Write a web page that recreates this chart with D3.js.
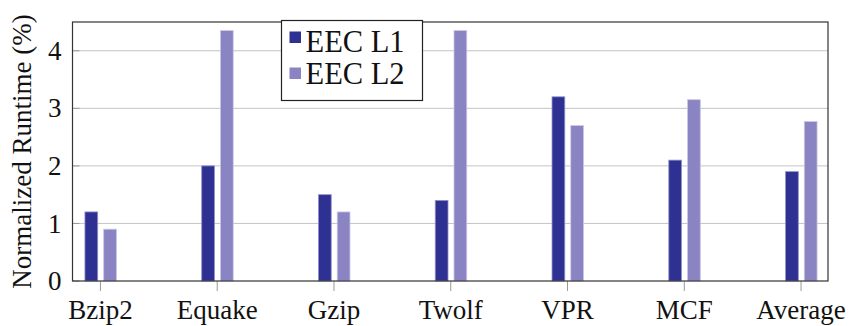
<!DOCTYPE html>
<html>
<head>
<meta charset="utf-8">
<script src="https://cdn.jsdelivr.net/npm/d3@7"></script>
<style>
  body { margin: 0; background: #fff; }
</style>
</head>
<body>
<div id="chart"></div>
<script>
const categories = ["Bzip2", "Equake", "Gzip", "Twolf", "VPR", "MCF", "Average"];
const eecL1 = [1.2, 2.0, 1.5, 1.4, 3.2, 2.1, 1.9];
const eecL2 = [0.9, 4.35, 1.2, 4.35, 2.7, 3.15, 2.77];
const seriesNames = ["EEC L1", "EEC L2"];
const yTicks = [0, 1, 2, 3, 4];

const colors = ["#2e3192", "#8a84c2"];
const edgeColors = ["#8f91c9", "#c9c6e6"];
const serif = "'Liberation Serif', serif";

let margin = { top: 22, right: 21, bottom: 45, left: 72.5 },
  width = 849 - margin.left - margin.right,
  height = 326 - margin.top - margin.bottom;

let svg = d3.select("#chart")
  .append("svg")
  .attr("width", 849)
  .attr("height", 326)
  .append("g")
  .attr("transform", "translate(" + margin.left + "," + margin.top + ")");

let x = d3.scalePoint()
  .domain(categories)
  .range([0, width])
  .padding(0.235);

let sub = d3.scaleBand()
  .domain([0, 1])
  .range([-15, 16.5])
  .paddingInner(0.32);

let y = d3.scaleLinear()
  .domain([0, 4.5])
  .range([height, 0]);

// grid
svg.append("g")
  .selectAll("line")
  .data(yTicks.slice(1))
  .enter()
  .append("line")
  .attr("x1", 0)
  .attr("x2", width)
  .attr("y1", d => y(d))
  .attr("y2", d => y(d))
  .attr("stroke", "#c4c4c4")
  .attr("stroke-width", 1);

// bars
const series = [eecL1, eecL2];
series.forEach((vals, s) => {
  svg.append("g")
    .selectAll("rect")
    .data(vals)
    .enter()
    .append("rect")
    .attr("x", (d, i) => x(categories[i]) + sub(s))
    .attr("y", d => y(d))
    .attr("width", sub.bandwidth())
    .attr("height", d => height - y(d))
    .attr("fill", colors[s])
    .attr("stroke", edgeColors[s])
    .attr("stroke-width", 0.8);
});

// x axis ticks + labels
let xAxis = svg.append("g")
  .attr("transform", "translate(0," + height + ")")
  .call(d3.axisBottom(x).tickSize(10).tickPadding(9));
xAxis.select(".domain").remove();
xAxis.selectAll(".tick line").attr("stroke", "#999").attr("stroke-width", 1);
xAxis.selectAll(".tick text")
  .style("font-family", serif)
  .style("font-size", "27px")
  .attr("fill", "#111");

// y axis ticks + labels
let yAxis = svg.append("g")
  .call(d3.axisLeft(y).tickValues(yTicks).tickSize(0).tickPadding(11).tickFormat(d3.format("d")));
yAxis.select(".domain").remove();
yAxis.selectAll(".tick text")
  .style("font-family", serif)
  .style("font-size", "27px")
  .attr("fill", "#111");
svg.append("g")
  .selectAll("line")
  .data(yTicks)
  .enter()
  .append("line")
  .attr("x1", 0)
  .attr("x2", 7)
  .attr("y1", d => y(d))
  .attr("y2", d => y(d))
  .attr("stroke", "#999");

// frame
svg.append("rect")
  .attr("x", 0)
  .attr("y", 0)
  .attr("width", width)
  .attr("height", height)
  .attr("fill", "none")
  .attr("stroke", "#333")
  .attr("stroke-width", 1.2);

// y label
svg.append("text")
  .attr("transform", "rotate(-90)")
  .attr("x", -height / 2)
  .attr("y", -margin.left + 31)
  .style("text-anchor", "middle")
  .style("font-family", serif)
  .style("font-size", "27px")
  .attr("fill", "#111")
  .text("Normalized Runtime (%)");

// legend
const legend = svg.append("g").attr("transform", "translate(209, -1.5)");
legend.append("rect")
  .attr("x", 0)
  .attr("y", 0)
  .attr("width", 141)
  .attr("height", 80)
  .attr("fill", "#fff")
  .attr("stroke", "#222")
  .attr("stroke-width", 1.2);
seriesNames.forEach((name, s) => {
  legend.append("rect")
    .attr("x", 8)
    .attr("y", 11 + s * 36)
    .attr("width", 11.5)
    .attr("height", 11.5)
    .attr("fill", colors[s]);
  legend.append("text")
    .attr("x", 24)
    .attr("y", 31 + s * 32.5)
    .style("font-family", serif)
    .style("font-size", "30.5px")
    .attr("fill", "#111")
    .text(name);
});
</script>
</body>
</html>
